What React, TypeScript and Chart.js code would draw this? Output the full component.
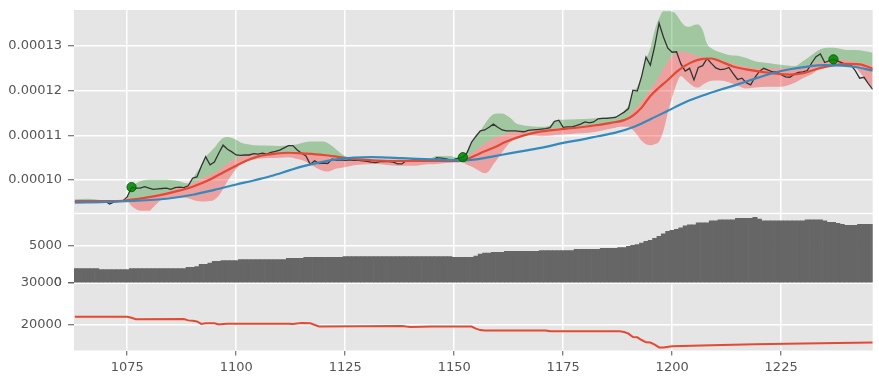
import React, { useEffect, useRef } from 'react';
import { Chart, registerables } from 'chart.js';

Chart.register(...registerables);

// ---------- data (price values in units of 1e-5) ----------
const START_DAY = 1063;

const closeE5 = [
  9.51, 9.51, 9.51, 9.52, 9.51, 9.52, 9.52, 9.52, 9.46, 9.51,
  9.52, 9.53, 9.62, 9.84, 9.82, 9.82, 9.85, 9.82, 9.79, 9.80,
  9.81, 9.82, 9.79, 9.83, 9.84, 9.83, 9.87, 10.04, 10.07, 10.31,
  10.52, 10.34, 10.40, 10.60, 10.78, 10.69, 10.63, 10.56, 10.55, 10.56,
  10.56, 10.59, 10.58, 10.60, 10.58, 10.62, 10.64, 10.67, 10.72, 10.77,
  10.77, 10.67, 10.60, 10.54, 10.35, 10.43, 10.37, 10.38, 10.37, 10.47,
  10.44, 10.45, 10.44, 10.45, 10.44, 10.44, 10.43, 10.42, 10.40, 10.39,
  10.41, 10.42, 10.41, 10.40, 10.36, 10.36, 10.43, 10.44, 10.45, 10.45,
  10.46, 10.45, 10.42, 10.50, 10.49, 10.48, 10.45, 10.46, 10.49, 10.51,
  10.62, 10.85, 10.98, 11.10, 11.12, 11.18, 11.25, 11.18, 11.12, 11.10,
  11.10, 11.10, 11.09, 11.08, 11.11, 11.12, 11.13, 11.14, 11.15, 11.17,
  11.31, 11.34, 11.18, 11.19, 11.19, 11.22, 11.25, 11.30, 11.28, 11.30,
  11.37, 11.38, 11.38, 11.39, 11.40, 11.46, 11.52, 11.60, 12.01, 11.99,
  12.32, 12.75, 12.57, 13.00, 13.51, 13.20, 12.95, 12.86, 12.87, 12.60,
  12.44, 12.50, 12.24, 12.52, 12.56, 12.72, 12.61, 12.51, 12.47, 12.48,
  12.52, 12.38, 12.25, 12.28, 12.18, 12.13, 12.30, 12.43, 12.50, 12.46,
  12.42, 12.42, 12.36, 12.31, 12.30, 12.37, 12.41, 12.42, 12.45, 12.62,
  12.76, 12.82, 12.63, 12.67, 12.70, 12.66, 12.62, 12.59, 12.57, 12.45,
  12.28, 12.30, 12.16, 12.03,
];

const volume = [
  1930, 1930, 1930, 1930, 1930, 1930,
  1800, 1800, 1800, 1800, 1800, 1800, 1800,
  1930, 1930, 1930, 1930, 1930, 1930, 1930, 1930, 1930, 1930, 1930, 1930, 1930,
  2070, 2070, 2200, 2470, 2470, 2640, 2870, 2870,
  3000, 3000, 3000, 3000,
  3130, 3130, 3130, 3130, 3130, 3130, 3130, 3130, 3130, 3130, 3130,
  3270, 3270, 3270, 3270,
  3400, 3400, 3400, 3400, 3400, 3400, 3400, 3400, 3400,
  3530, 3530, 3530, 3530, 3530, 3530, 3530, 3530, 3530, 3530,
  3530, 3530, 3530, 3530, 3530, 3530, 3530, 3530, 3530, 3530,
  3530, 3530, 3530, 3530, 3530,
  3400, 3400, 3400, 3400, 3400,
  3580, 3840, 3970, 3970, 4070, 4070, 4070,
  4200, 4200, 4200, 4200, 4200, 4200, 4200, 4200,
  4330, 4330, 4330, 4330, 4330, 4330, 4330, 4330,
  4470, 4470, 4470, 4470, 4470, 4470,
  4600, 4600, 4600, 4600, 4730, 4730,
  4870, 5000, 5130, 5310, 5530, 5670, 5930, 6200, 6560, 6870, 7000, 7130, 7350, 7620,
  7750, 7750, 8020, 8020, 8020, 8290, 8290,
  8420, 8420, 8420, 8420, 8600, 8600, 8600, 8600, 8730, 8510,
  8290, 8290, 8290, 8290, 8290, 8290, 8290, 8290, 8290, 8290,
  8420, 8420, 8420, 8420, 8290, 8070, 8070, 7930, 7800,
  7670, 7670, 7670, 7800, 7800, 7800, 7800,
];

const emaX = [1063, 1068, 1073, 1076, 1079, 1082, 1086, 1090, 1094, 1097, 1100, 1103, 1106, 1109, 1112,
  1116, 1120, 1124, 1128, 1135, 1143, 1151, 1153, 1156, 1159, 1162, 1166, 1170, 1174, 1178, 1182,
  1186, 1189, 1191, 1193, 1195, 1197, 1199, 1201, 1203, 1205, 1207, 1209, 1211, 1214, 1218, 1223,
  1227, 1230, 1233, 1236, 1240, 1243, 1246];
const emaE5 = [9.53, 9.53, 9.53, 9.56, 9.60, 9.65, 9.74, 9.85, 10.01, 10.17, 10.32, 10.46, 10.55, 10.59, 10.61,
  10.59, 10.56, 10.51, 10.46, 10.43, 10.43, 10.42, 10.47, 10.60, 10.72, 10.86, 11.00, 11.09, 11.13, 11.17, 11.22,
  11.28, 11.34, 11.44, 11.62, 11.88, 12.07, 12.24, 12.42, 12.56, 12.66, 12.71, 12.72, 12.66, 12.54, 12.46, 12.39,
  12.36, 12.39, 12.48, 12.55, 12.60, 12.59, 12.49];

const smaX = [1063, 1070, 1076, 1084, 1090, 1095, 1100, 1104, 1108, 1112, 1115, 1119, 1123, 1127, 1131,
  1138, 1145, 1152, 1155, 1159, 1163, 1167, 1171, 1175, 1179, 1183, 1187, 1191, 1195, 1199, 1203,
  1207, 1211, 1215, 1219, 1223, 1227, 1231, 1235, 1239, 1242, 1246];
const smaE5 = [9.50, 9.51, 9.53, 9.58, 9.67, 9.78, 9.90, 9.99, 10.09, 10.21, 10.30, 10.39, 10.46, 10.50, 10.51,
  10.49, 10.46, 10.44, 10.46, 10.53, 10.60, 10.67, 10.74, 10.83, 10.90, 10.98, 11.06, 11.18, 11.36, 11.55, 11.74,
  11.89, 12.02, 12.14, 12.27, 12.39, 12.48, 12.54, 12.57, 12.56, 12.53, 12.45];

const bandX = [1063, 1066, 1069, 1072, 1074, 1075, 1076, 1077, 1078, 1080, 1081, 1082, 1083, 1085, 1087,
  1088, 1089, 1090, 1091, 1092, 1093, 1094, 1095, 1096, 1097, 1098, 1099, 1100, 1101, 1102, 1104,
  1107, 1110, 1112, 1114, 1116, 1118, 1120, 1121, 1122, 1123, 1124, 1125, 1126, 1128, 1132, 1137,
  1141, 1144, 1146, 1149, 1151, 1152, 1153, 1154, 1156, 1157, 1158, 1159, 1160, 1161, 1162, 1163,
  1164, 1166, 1168, 1170, 1172, 1173, 1175, 1178, 1181, 1184, 1187, 1188, 1189, 1190, 1191, 1192,
  1193, 1194, 1195, 1196, 1197, 1198, 1199, 1200, 1201, 1202, 1203, 1204, 1205, 1206, 1207, 1208,
  1209, 1211, 1213, 1215, 1217, 1219, 1222, 1225, 1228, 1230, 1232, 1234, 1236, 1238, 1240, 1242,
  1244, 1246];
const bandUpperE5 = [9.57, 9.58, 9.55, 9.52, 9.53, 9.60, 9.85, 9.92, 9.97, 10.01, 10.01, 10.01, 10.01, 10.00, 9.97,
  9.94, 9.92, 10.04, 10.18, 10.32, 10.52, 10.62, 10.72, 10.85, 10.94, 10.96, 10.94, 10.90, 10.84, 10.81, 10.78,
  10.77, 10.76, 10.77, 10.80, 10.85, 10.86, 10.86, 10.83, 10.76, 10.68, 10.60, 10.53, 10.50, 10.47, 10.45, 10.44,
  10.44, 10.46, 10.54, 10.54, 10.50, 10.52, 10.66, 10.85, 11.10, 11.25, 11.38, 11.47, 11.49, 11.49, 11.45, 11.38,
  11.28, 11.22, 11.20, 11.19, 11.22, 11.33, 11.35, 11.36, 11.37, 11.40, 11.43, 11.46, 11.55, 11.68, 11.98, 12.09,
  12.35, 12.70, 12.95, 13.35, 13.62, 13.78, 13.78, 13.77, 13.70, 13.55, 13.45, 13.43, 13.47, 13.48, 13.35, 13.05,
  12.95, 12.86, 12.80, 12.78, 12.73, 12.66, 12.62, 12.58, 12.55, 12.66, 12.80, 12.93, 12.96, 12.95, 12.91, 12.91,
  12.89, 12.85];
const bandMidE5 = [9.53, 9.53, 9.52, 9.51, 9.52, 9.54, 9.57, 9.59, 9.61, 9.65, 9.67, 9.69, 9.71, 9.76, 9.83,
  9.86, 9.89, 9.93, 9.98, 10.03, 10.08, 10.12, 10.16, 10.22, 10.30, 10.37, 10.43, 10.48, 10.52, 10.55, 10.58,
  10.61, 10.62, 10.63, 10.63, 10.62, 10.60, 10.58, 10.56, 10.54, 10.52, 10.51, 10.50, 10.49, 10.47, 10.45, 10.44,
  10.44, 10.44, 10.44, 10.44, 10.44, 10.46, 10.52, 10.60, 10.75, 10.82, 10.88, 10.94, 10.97, 11.00, 11.04, 11.07,
  11.08, 11.10, 11.12, 11.13, 11.15, 11.16, 11.18, 11.20, 11.24, 11.27, 11.30, 11.32, 11.36, 11.42, 11.55, 11.64,
  11.76, 11.90, 12.04, 12.16, 12.32, 12.50, 12.65, 12.78, 12.85, 12.87, 12.86, 12.84, 12.80, 12.77, 12.75, 12.73,
  12.72, 12.68, 12.63, 12.58, 12.54, 12.51, 12.51, 12.51, 12.52, 12.55, 12.60, 12.64, 12.66, 12.69, 12.68, 12.64,
  12.61, 12.57];
const bandLowerE5 = [9.46, 9.47, 9.48, 9.49, 9.51, 9.53, 9.42, 9.35, 9.31, 9.31, 9.39, 9.49, 9.57, 9.61, 9.61,
  9.61, 9.59, 9.56, 9.53, 9.52, 9.52, 9.53, 9.56, 9.65, 9.80, 9.97, 10.12, 10.25, 10.35, 10.40, 10.46,
  10.49, 10.50, 10.51, 10.47, 10.41, 10.29, 10.20, 10.19, 10.22, 10.26, 10.27, 10.29, 10.31, 10.34, 10.36, 10.32,
  10.32, 10.35, 10.36, 10.39, 10.41, 10.40, 10.34, 10.30, 10.19, 10.15, 10.20, 10.35, 10.48, 10.62, 10.75, 10.86,
  10.93, 11.01, 11.00, 10.98, 10.99, 11.01, 11.02, 11.04, 11.06, 11.11, 11.17, 11.19, 11.19, 11.19, 11.12, 11.01,
  10.88, 10.80, 10.78, 10.80, 10.86, 11.10, 11.50, 11.85, 12.15, 12.33, 12.25, 12.16, 12.09, 12.07, 12.13, 12.19,
  12.22, 12.23, 12.19, 12.11, 12.05, 12.07, 12.09, 12.09, 12.17, 12.28, 12.37, 12.50, 12.57, 12.59, 12.62, 12.52,
  12.30, 12.05];

const signalX = [1076, 1152, 1237];
const signalE5 = [9.84, 10.51, 12.70];

const lowerX = [1063, 1075, 1076, 1077, 1088, 1089, 1090, 1091, 1092, 1093, 1095, 1096, 1097, 1098, 1112,
  1113, 1115, 1117, 1119, 1138, 1139, 1140, 1145, 1150, 1154, 1155, 1156, 1157, 1171, 1172, 1188,
  1189, 1190, 1191, 1192, 1193, 1194, 1195, 1196, 1197, 1198, 1200, 1209, 1219, 1230, 1246];
const lowerY = [21800, 21800, 21600, 21250, 21300, 20950, 20850, 20700, 20100, 20250, 20250, 19950, 20050, 20150, 20150,
  20100, 20300, 20250, 19500, 19600, 19450, 19350, 19450, 19500, 19450, 18950, 18600, 18500, 18500, 18300, 18300,
  18150, 17750, 16900, 16850, 16200, 15650, 15600, 15100, 14400, 14400, 14700, 14950, 15150, 15350, 15600];

const xTicks = [1075, 1100, 1125, 1150, 1175, 1200, 1225];
const priceTicks = [0.0001, 0.00011, 0.00012, 0.00013];
const volumeTicks = [0, 5000];
const lowerTicks = [20000, 30000];

// ---------- helpers ----------
const E5 = 1e-5;
const pairs = (xs: number[], ys: number[], k = 1) => xs.map((x, i) => ({ x, y: ys[i] * k }));

const TICK_COLOR = '#555555';
const FONT = { family: "'DejaVu Sans'", size: 13 };

const panelBg = {
  id: 'panelBg',
  beforeDraw(chart: any) {
    const { ctx, chartArea } = chart;
    const ids = ['yp', 'yv', 'yb'];
    ctx.save();
    ctx.fillStyle = '#ffffff';
    ctx.fillRect(0, 0, chart.width, chart.height);
    ctx.fillStyle = '#E5E5E5';
    ids.forEach((id, i) => {
      const s = chart.scales[id];
      const top = s.top + (i > 0 ? 0.75 : 0);
      const bottom = s.bottom - (i < 2 ? 0.75 : 0);
      ctx.fillRect(chartArea.left, top, chartArea.right - chartArea.left, bottom - top);
    });
    ctx.restore();
  },
};

function yAxis(opts: any, ticks: number[], fmt: (v: number) => string) {
  return {
    type: 'linear',
    position: 'left',
    stack: 'panels',
    bounds: 'data',
    grid: { color: '#ffffff', lineWidth: 1.5, tickColor: TICK_COLOR, tickWidth: 1, tickLength: 6 },
    border: { display: false },
    ticks: { font: FONT, color: TICK_COLOR, padding: 6, autoSkip: false, callback: (v: any) => fmt(Number(v)) },
    afterBuildTicks: (s: any) => { s.ticks = ticks.map((value) => ({ value })); },
    afterFit: (s: any) => { s.width = 74; s.paddingTop = 0; s.paddingBottom = 0; },
    ...opts,
  };
}

export default function App() {
  const ref = useRef<HTMLCanvasElement>(null);

  useEffect(() => {
    if (!ref.current) return;
    const closePts = closeE5.map((v, i) => ({ x: START_DAY + i, y: v * E5 }));
    const volPts = volume.map((v, i) => ({ x: START_DAY + i, y: v }));

    const chart = new Chart(ref.current, {
      type: 'line',
      data: {
        datasets: [
          {
            label: 'signal', data: pairs(signalX, signalE5, E5), yAxisID: 'yp', showLine: false,
            pointRadius: 4.6, pointBackgroundColor: 'rgba(0,128,0,0.85)', pointBorderColor: 'rgba(0,100,0,0.95)',
            pointBorderWidth: 1, borderColor: 'transparent',
          },
          {
            label: 'sma', data: pairs(smaX, smaE5, E5), yAxisID: 'yp', borderColor: '#348ABD', borderWidth: 2.2,
            pointRadius: 0, cubicInterpolationMode: 'monotone', fill: false,
          },
          {
            label: 'ema', data: pairs(emaX, emaE5, E5), yAxisID: 'yp', borderColor: '#E24A33', borderWidth: 2.2,
            pointRadius: 0, cubicInterpolationMode: 'monotone', fill: false,
          },
          {
            label: 'close', data: closePts, yAxisID: 'yp', borderColor: '#333333', borderWidth: 1.3,
            pointRadius: 0, tension: 0, fill: false,
          },
          {
            label: 'upper', data: pairs(bandX, bandUpperE5, E5), yAxisID: 'yp', borderColor: 'transparent', borderWidth: 0,
            pointRadius: 0, cubicInterpolationMode: 'monotone', fill: { target: 5 }, backgroundColor: 'rgba(0,128,0,0.3)',
          },
          {
            label: 'mid', data: pairs(bandX, bandMidE5, E5), yAxisID: 'yp', borderColor: 'transparent', borderWidth: 0,
            pointRadius: 0, cubicInterpolationMode: 'monotone', fill: false,
          },
          {
            label: 'lower', data: pairs(bandX, bandLowerE5, E5), yAxisID: 'yp', borderColor: 'transparent', borderWidth: 0,
            pointRadius: 0, cubicInterpolationMode: 'monotone', fill: { target: 5 }, backgroundColor: 'rgba(255,0,0,0.3)',
          },
          {
            type: 'bar', label: 'volume', data: volPts, yAxisID: 'yv', backgroundColor: '#666666',
            borderWidth: 0, barPercentage: 1, categoryPercentage: 1,
          } as any,
          {
            label: 'lower panel', data: pairs(lowerX, lowerY), yAxisID: 'yb', borderColor: '#E24A33', borderWidth: 2,
            pointRadius: 0, tension: 0, fill: false,
          },
        ],
      },
      options: {
        responsive: false,
        animation: false,
        devicePixelRatio: 1,
        events: [],
        layout: { padding: { top: 10, right: 6.3, left: 0, bottom: 0 } },
        plugins: { legend: { display: false }, tooltip: { enabled: false } },
        scales: {
          x: {
            type: 'linear', position: 'bottom', min: 1062.8, max: 1246, offset: false, bounds: 'data',
            grid: { color: '#ffffff', lineWidth: 1.5, tickColor: TICK_COLOR, tickWidth: 1, tickLength: 5, offset: false },
            border: { display: false },
            ticks: { font: FONT, color: TICK_COLOR, padding: 4, maxRotation: 0, autoSkip: false, callback: (v: any) => String(v) },
            afterBuildTicks: (s: any) => { s.ticks = xTicks.map((value) => ({ value })); },
            afterFit: (s: any) => { s.height = 31.5; s.paddingLeft = 0; s.paddingRight = 0; },
          },
          yp: yAxis({ min: 9.25e-5, max: 13.806e-5, stackWeight: 203.5, weight: 3 }, priceTicks, (v) => v.toFixed(5)),
          yv: yAxis({ min: 0, max: 9250, stackWeight: 69.5, weight: 2 }, volumeTicks, (v) => String(Math.round(v))),
          yb: yAxis({ min: 13660, max: 30000, stackWeight: 67.5, weight: 1 }, lowerTicks, (v) => String(Math.round(v))),
        } as any,
      },
      plugins: [panelBg],
    } as any);

    return () => chart.destroy();
  }, []);

  return (
    <div style={{ position: 'fixed', left: 0, top: 0, width: 879, height: 382, background: '#ffffff' }}>
      <canvas ref={ref} width={879} height={382} style={{ display: 'block', width: 879, height: 382 }} />
    </div>
  );
}
